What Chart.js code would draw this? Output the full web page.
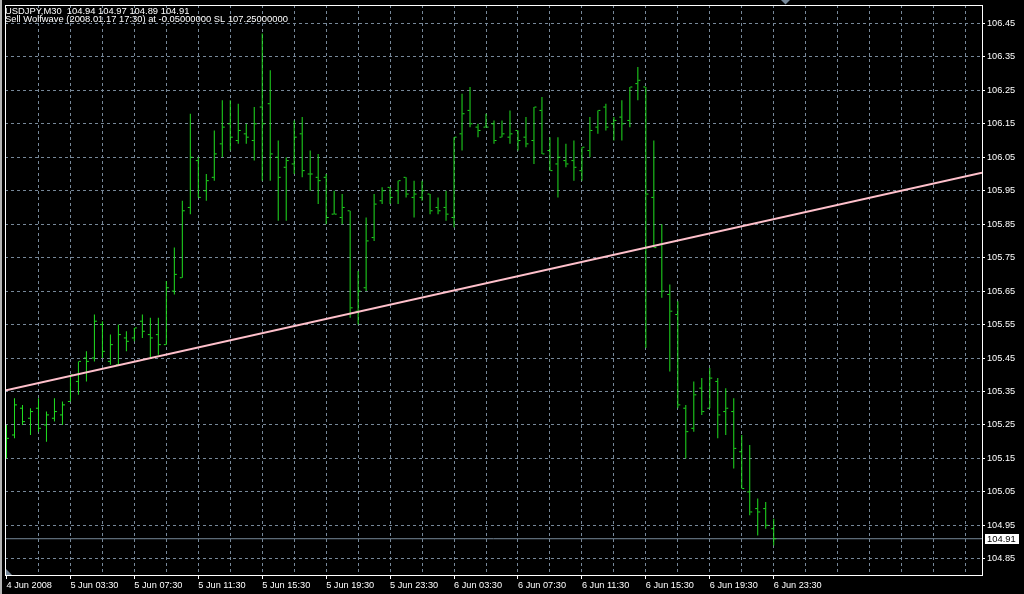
<!DOCTYPE html>
<html lang="en">

<head>
    <meta charset="UTF-8">
    <title>USDJPY,M30</title>
    <script src="https://cdn.jsdelivr.net/npm/chart.js"></script>
    <style>
        html, body { margin: 0; padding: 0; background: #000; }
        #wrap { position: relative; width: 1024px; height: 594px; }
    </style>
</head>

<body>
    <div id="wrap"><canvas id="chart"></canvas></div>

    <script>
        // USDJPY M30, one bar per 30 minutes from 4 Jun 2008 23:30 to 6 Jun 2008 23:30
        const opens = [
            105.23, 105.22, 105.30, 105.27, 105.30, 105.25, 105.27, 105.28, 105.32, 105.38,
            105.45, 105.45, 105.55, 105.44, 105.43, 105.51, 105.51, 105.56, 105.52, 105.52,
            105.49, 105.65, 105.69, 105.90, 106.04, 105.95, 105.99, 106.09, 106.15, 106.10,
            106.12, 106.10, 106.20, 106.21, 106.05, 106.02, 106.03, 106.12, 106.00, 105.99,
            105.99, 105.88, 105.87, 105.89, 105.59, 105.66, 105.81, 105.92, 105.96, 105.95,
            105.99, 105.93, 105.93, 105.94, 105.90, 105.90, 105.87, 106.12, 106.19, 106.14,
            106.14, 106.15, 106.11, 106.11, 106.13, 106.11, 106.10, 106.19, 106.07, 106.03,
            106.04, 106.04, 106.01, 106.07, 106.14, 106.20, 106.15, 106.17, 106.16, 106.27,
            106.26, 105.93, 105.79, 105.64, 105.58, 105.30, 105.24, 105.36, 105.30, 105.38,
            105.29, 105.29, 105.17, 105.05, 105.00, 105.00, 104.94
        ];
        const highs = [
            105.25, 105.33, 105.31, 105.30, 105.33, 105.29, 105.33, 105.32, 105.40, 105.44,
            105.47, 105.58, 105.56, 105.52, 105.55, 105.53, 105.54, 105.58, 105.57, 105.57,
            105.68, 105.78, 105.92, 106.18, 106.05, 106.00, 106.13, 106.22, 106.22, 106.21,
            106.15, 106.20, 106.42, 106.31, 106.10, 106.05, 106.16, 106.17, 106.07, 106.06,
            106.00, 105.95, 105.94, 105.89, 105.71, 105.87, 105.94, 105.96, 105.96, 105.98,
            105.99, 105.98, 105.98, 105.94, 105.93, 105.95, 106.11, 106.24, 106.26, 106.15,
            106.18, 106.16, 106.16, 106.19, 106.13, 106.17, 106.20, 106.23, 106.11, 106.11,
            106.09, 106.10, 106.08, 106.17, 106.19, 106.21, 106.17, 106.22, 106.26, 106.32,
            106.26, 106.10, 105.85, 105.67, 105.62, 105.31, 105.38, 105.39, 105.42, 105.39,
            105.36, 105.33, 105.22, 105.19, 105.03, 105.02, 104.97
        ];
        const lows = [
            105.15, 105.21, 105.25, 105.22, 105.23, 105.20, 105.26, 105.25, 105.32, 105.34,
            105.38, 105.44, 105.45, 105.43, 105.43, 105.47, 105.50, 105.51, 105.45, 105.46,
            105.49, 105.64, 105.69, 105.88, 105.93, 105.92, 105.98, 106.05, 106.07, 106.09,
            106.09, 106.04, 105.98, 105.98, 105.86, 105.86, 106.00, 105.99, 105.95, 105.91,
            105.85, 105.88, 105.85, 105.57, 105.55, 105.65, 105.80, 105.91, 105.91, 105.91,
            105.93, 105.87, 105.92, 105.88, 105.88, 105.86, 105.84, 106.07, 106.14, 106.11,
            106.14, 106.09, 106.11, 106.09, 106.07, 106.08, 106.03, 106.06, 106.01, 105.93,
            106.02, 105.98, 105.98, 106.05, 106.12, 106.13, 106.10, 106.10, 106.14, 106.22,
            105.48, 105.78, 105.63, 105.41, 105.30, 105.15, 105.23, 105.28, 105.30, 105.21,
            105.22, 105.12, 105.06, 104.98, 104.92, 104.94, 104.89
        ];
        const closes = [
            105.21, 105.31, 105.26, 105.29, 105.24, 105.28, 105.29, 105.31, 105.40, 105.44,
            105.44, 105.56, 105.47, 105.49, 105.52, 105.50, 105.54, 105.53, 105.51, 105.49,
            105.66, 105.70, 105.89, 106.05, 105.93, 105.98, 106.06, 106.14, 106.11, 106.13,
            106.11, 106.15, 106.15, 106.06, 105.99, 106.04, 106.11, 106.01, 106.00, 105.98,
            105.87, 105.88, 105.90, 105.60, 105.65, 105.80, 105.91, 105.95, 105.93, 105.98,
            105.94, 105.94, 105.95, 105.89, 105.89, 105.88, 106.11, 106.18, 106.15, 106.13,
            106.14, 106.10, 106.12, 106.12, 106.10, 106.09, 106.20, 106.06, 106.01, 106.05,
            106.03, 106.02, 106.08, 106.13, 106.19, 106.14, 106.16, 106.15, 106.26, 106.28,
            105.94, 105.78, 105.65, 105.59, 105.31, 105.23, 105.34, 105.29, 105.39, 105.28,
            105.30, 105.18, 105.06, 104.99, 104.99, 104.95, 104.91
        ];

        // one label every 8 bars, starting at bar 0
        const xTickLabels = [
            '4 Jun 2008', '5 Jun 03:30', '5 Jun 07:30', '5 Jun 11:30', '5 Jun 15:30',
            '5 Jun 19:30', '5 Jun 23:30', '6 Jun 03:30', '6 Jun 07:30', '6 Jun 11:30',
            '6 Jun 15:30', '6 Jun 19:30', '6 Jun 23:30'
        ];
        const yTicks = [
            104.85, 104.95, 105.05, 105.15, 105.25, 105.35, 105.45, 105.55, 105.65,
            105.75, 105.85, 105.95, 106.05, 106.15, 106.25, 106.35, 106.45
        ];

        // Wolfwave trend line (a ray), anchored at bar 0 and bar 96
        const waveBars = [0, 96];
        const wavePrices = [105.354, 105.865];

        const symbol = 'USDJPY,M30';
        const signalText = 'Sell Wolfwave (2008.01.17 17:30) at -0.05000000 SL 107.25000000';

        const green = '#20e020';
        const gridColor = '#778899';
        const fontFamily = '"Liberation Sans", Arial, sans-serif';

        const bars = closes.map((_, i) => i);
        const last = bars.length - 1;
        const lastClose = closes[last];

        // frame is 978px wide, 8px per bar; 336.4px per 1.00 yen
        const xMin = -0.1875, xMax = 122.0625;
        const yMin = 104.8016, yMax = 106.505;

        const slope = (wavePrices[1] - wavePrices[0]) / (waveBars[1] - waveBars[0]);
        const waveAt = x => wavePrices[0] + (x - waveBars[0]) * slope;

        const labelAt = v => (v % 8 === 0 && xTickLabels[v / 8]) ? xTickLabels[v / 8] : '';

        const headerLines = [
            `${symbol}  ${opens[last].toFixed(2)} ${highs[last].toFixed(2)} ${lows[last].toFixed(2)} ${closes[last].toFixed(2)}`,
            signalText
        ];

        const mt4Frame = {
            id: 'mt4Frame',
            beforeDraw(chart) {
                const { ctx, width, height } = chart;
                ctx.save();
                ctx.fillStyle = '#000';
                ctx.fillRect(0, 0, width, height);
                ctx.fillStyle = '#b4b4b4';
                ctx.fillRect(0, 0, 2, height);
                ctx.restore();
            },
            afterDraw(chart) {
                const { ctx, chartArea: a, scales: { y } } = chart;
                ctx.save();
                ctx.strokeStyle = '#fff';
                ctx.lineWidth = 1;
                ctx.strokeRect(a.left + 0.5, a.top + 0.5, a.right - a.left, a.bottom - a.top);

                ctx.font = '9.4px ' + fontFamily;
                ctx.fillStyle = '#fff';
                ctx.textBaseline = 'alphabetic';
                headerLines.forEach((t, i) => ctx.fillText(t, a.left, 14 + i * 8));

                // bid price box
                const yb = y.getPixelForValue(lastClose);
                ctx.fillRect(a.right + 3, Math.round(yb) - 5, 34, 10);
                ctx.fillStyle = '#000';
                ctx.textBaseline = 'middle';
                ctx.fillText(lastClose.toFixed(2), a.right + 5, yb + 0.5);

                // shift marker and corner marker
                ctx.fillStyle = gridColor;
                ctx.beginPath();
                ctx.moveTo(781, 0); ctx.lineTo(790, 0); ctx.lineTo(785.5, 4.5);
                ctx.fill();
                ctx.beginPath();
                ctx.moveTo(a.left + 1, a.bottom - 6); ctx.lineTo(a.left + 1, a.bottom); ctx.lineTo(a.left + 7, a.bottom);
                ctx.fill();
                ctx.restore();
            }
        };

        Chart.defaults.font.family = fontFamily;
        Chart.defaults.font.size = 9.2;

        new Chart(document.getElementById('chart'), {
            type: 'scatter',
            data: {
                datasets: [
                    {
                        type: 'line',
                        label: 'Wolfwave',
                        data: [{ x: xMin, y: waveAt(xMin) }, { x: xMax, y: waveAt(xMax) }],
                        borderColor: '#ffc0cb',
                        borderWidth: 2,
                        pointRadius: 0,
                        order: 0
                    },
                    {
                        type: 'bar',
                        label: 'High-Low',
                        data: bars.map(i => ({ x: i, y: [lows[i], highs[i]] })),
                        backgroundColor: green,
                        barThickness: 1,
                        inflateAmount: 0,
                        borderWidth: 0,
                        order: 1
                    },
                    {
                        type: 'line',
                        label: 'Open',
                        data: bars.map(i => ({ x: i - 0.1875, y: opens[i] })),
                        showLine: false,
                        pointStyle: 'line',
                        pointRadius: 1,
                        pointBorderColor: green,
                        pointBorderWidth: 1,
                        order: 2
                    },
                    {
                        type: 'line',
                        label: 'Close',
                        data: bars.map(i => ({ x: i + 0.1875, y: closes[i] })),
                        showLine: false,
                        pointStyle: 'line',
                        pointRadius: 1,
                        pointBorderColor: green,
                        pointBorderWidth: 1,
                        order: 3
                    },
                    {
                        type: 'line',
                        label: 'Bid',
                        data: [{ x: xMin, y: lastClose }, { x: xMax, y: lastClose }],
                        borderColor: gridColor,
                        borderWidth: 1,
                        pointRadius: 0,
                        order: 4
                    }
                ]
            },
            options: {
                responsive: true,
                maintainAspectRatio: false,
                devicePixelRatio: 1,
                animation: false,
                events: [],
                layout: { padding: { left: 4, top: 2, right: 0, bottom: 0 } },
                plugins: {
                    legend: { display: false },
                    tooltip: { enabled: false }
                },
                scales: {
                    x: {
                        type: 'linear',
                        position: 'bottom',
                        min: xMin,
                        max: xMax,
                        offset: false,
                        afterBuildTicks: s => {
                            s.ticks = Array.from({ length: 31 }, (_, k) => ({ value: k * 4 }));
                        },
                        afterFit: s => {
                            s.height = 19;
                            s.paddingLeft = 0;
                            s.paddingRight = 0;
                        },
                        grid: {
                            offset: false,
                            color: c => (c.tick && c.tick.value === 0) ? 'transparent' : gridColor,
                            lineWidth: 1,
                            tickLength: 4,
                            tickColor: c => (c.tick && labelAt(c.tick.value)) ? '#fff' : 'transparent',
                            tickBorderDash: []
                        },
                        border: { display: false, dash: [3, 3] },
                        ticks: {
                            autoSkip: false,
                            maxRotation: 0,
                            minRotation: 0,
                            align: 'start',
                            padding: 1,
                            color: '#fff',
                            callback: v => labelAt(v)
                        }
                    },
                    y: {
                        type: 'linear',
                        position: 'right',
                        min: yMin,
                        max: yMax,
                        beginAtZero: false,
                        afterBuildTicks: s => {
                            s.ticks = yTicks.map(v => ({ value: v }));
                        },
                        afterFit: s => {
                            s.width = 42;
                            s.paddingTop = 0;
                            s.paddingBottom = 0;
                        },
                        grid: {
                            color: gridColor,
                            lineWidth: 1,
                            tickLength: 3,
                            tickColor: '#fff',
                            tickBorderDash: []
                        },
                        border: { display: false, dash: [3, 3] },
                        ticks: {
                            padding: 2,
                            color: '#fff',
                            callback: v => Number(v).toFixed(2)
                        }
                    }
                }
            },
            plugins: [mt4Frame]
        });
    </script>
</body>

</html>
